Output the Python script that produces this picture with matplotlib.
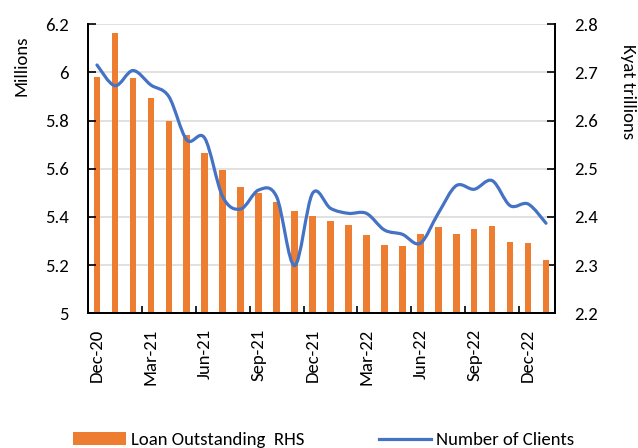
import matplotlib
matplotlib.use("Agg")
import matplotlib.pyplot as plt
from matplotlib import font_manager
from matplotlib.path import Path
from matplotlib.patches import PathPatch, Patch
from matplotlib.lines import Line2D
import numpy as np

# Monthly data, Dec-20 .. Jan-23
months = ["Dec-20", "Jan-21", "Feb-21", "Mar-21", "Apr-21", "May-21", "Jun-21",
          "Jul-21", "Aug-21", "Sep-21", "Oct-21", "Nov-21", "Dec-21", "Jan-22",
          "Feb-22", "Mar-22", "Apr-22", "May-22", "Jun-22", "Jul-22", "Aug-22",
          "Sep-22", "Oct-22", "Nov-22", "Dec-22", "Jan-23"]

# Loan outstanding, Kyat trillions (right axis)
loan_outstanding = [2.691, 2.781, 2.689, 2.646, 2.599, 2.570, 2.533, 2.497, 2.463,
                    2.450, 2.432, 2.412, 2.401, 2.392, 2.383, 2.363, 2.342, 2.340,
                    2.365, 2.380, 2.365, 2.376, 2.382, 2.348, 2.346, 2.311]

# Number of clients, millions (left axis)
clients = [6.031, 5.945, 6.008, 5.948, 5.900, 5.720, 5.727, 5.484, 5.433, 5.512,
           5.484, 5.198, 5.498, 5.436, 5.415, 5.415, 5.346, 5.328, 5.291, 5.415,
           5.530, 5.515, 5.551, 5.447, 5.454, 5.374]

left_ticks = [5, 5.2, 5.4, 5.6, 5.8, 6, 6.2]
right_ticks = [2.2, 2.3, 2.4, 2.5, 2.6, 2.7, 2.8]

# Pick a Calibri-like face if one is available
available = {f.name for f in font_manager.fontManager.ttflist}
family = next((f for f in ["Carlito", "Calibri", "Lato", "Open Sans"] if f in available), "DejaVu Sans")
plt.rcParams["font.family"] = [family, "DejaVu Sans"]
FS = 13.5

BAR_COLOR = "#ED7D31"
LINE_COLOR = "#4472C4"

fig = plt.figure(figsize=(6.38, 4.48), dpi=100)
ax = fig.add_axes([88 / 638, 1 - 313.3 / 448, (555 - 88) / 638, (313.3 - 24.3) / 448])
ax2 = ax.twinx()

x = np.arange(len(months))

# Bars on the right-hand axis, drawn behind the line
ax2.bar(x, loan_outstanding, width=0.37, color=BAR_COLOR, zorder=2)
ax2.set_ylim(2.2, 2.8)
ax2.set_yticks(right_ticks)
ax2.set_yticklabels([f"{v:.1f}" for v in right_ticks])
ax2.grid(axis="y", color="#D9D9D9", linewidth=1.1, zorder=0)
ax2.set_axisbelow(True)

# Smoothed clients line (cubic Bezier segments through every point)
pts = np.column_stack([x, clients]).astype(float)
n = len(pts)
verts = [tuple(pts[0])]
codes = [Path.MOVETO]
for i in range(n - 1):
    p0 = pts[i - 1] if i > 0 else pts[i]
    p1 = pts[i]
    p2 = pts[i + 1]
    p3 = pts[i + 2] if i + 2 < n else pts[i + 1]
    c1 = p1 + (p2 - p0) / 6.0
    c2 = p2 - (p3 - p1) / 6.0
    verts += [tuple(c1), tuple(c2), tuple(p2)]
    codes += [Path.CURVE4] * 3
ax.add_patch(PathPatch(Path(verts, codes), fill=False, edgecolor=LINE_COLOR,
                       linewidth=2.3, capstyle="round", joinstyle="round", zorder=3))
ax.set_ylim(5, 6.2)
ax.set_yticks(left_ticks)
ax.set_yticklabels([f"{v:g}" for v in left_ticks])

# Line axes on top of the bar axes
ax.set_zorder(ax2.get_zorder() + 1)
ax.patch.set_visible(False)

ax.set_xlim(-0.5, len(months) - 0.5)
ax.set_xticks(x[::3])
ax.set_xticklabels(months[::3], rotation=90)
ax.set_xticks(np.arange(2.5, len(months) - 1, 3), minor=True)
ax.tick_params(axis="x", which="major", length=0, pad=11, labelsize=FS)
ax.tick_params(axis="x", which="minor", direction="in", length=5, width=1.2, color="black")
ax.tick_params(axis="y", direction="in", length=6, width=1.2, pad=14, labelsize=FS)
ax2.tick_params(axis="y", direction="in", length=6, width=1.2, pad=14, labelsize=FS)

for a in (ax, ax2):
    a.spines["top"].set_visible(False)
    for s in ("left", "right", "bottom"):
        a.spines[s].set_color("black")
        a.spines[s].set_linewidth(1.4)

fig.text(22 / 638, 1 - 66 / 448, "Millions", rotation=90, ha="center", va="center", fontsize=FS)
fig.text(628 / 638, 1 - 92 / 448, "Kyat trillions", rotation=270, ha="center", va="center", fontsize=FS)

handles = [Patch(facecolor=BAR_COLOR, edgecolor="none"),
           Line2D([0], [0], color=LINE_COLOR, linewidth=2.3)]
fig.legend(handles, ["Loan Outstanding  RHS", "Number of Clients"],
           loc="center left", bbox_to_anchor=(73 / 638, 1 - 440 / 448), ncol=2,
           frameon=False, fontsize=FS, handlelength=2.8, handleheight=0.64,
           handletextpad=0.27, columnspacing=4.0, borderaxespad=0, borderpad=0)

fig.savefig("out.png", dpi=100)
